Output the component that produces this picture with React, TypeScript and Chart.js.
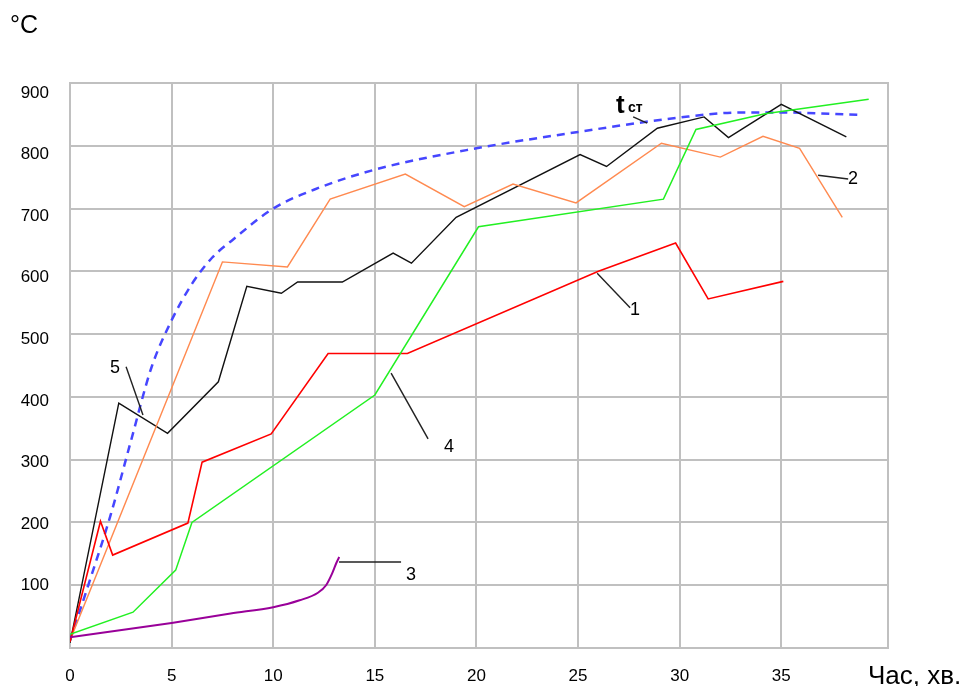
import React, { useEffect, useRef } from 'react';
import { Chart, registerables } from 'chart.js';

Chart.register(...registerables);

// ---- Data ----
const X_TICKS = [0, 5, 10, 15, 20, 25, 30, 35];
const Y_GRID = [0, 100, 200, 300, 400, 500, 600, 700, 800, 900];
const Y_LABELS = [100, 200, 300, 400, 500, 600, 700, 800, 900];

// Curve 1 (red)
const S1_X = [0, 1.5, 2.1, 5.8, 6.5, 9.9, 12.7, 16.6, 26.0, 29.8, 31.4, 35.1];
const S1_Y = [10, 202, 148, 199, 296, 341, 469, 469, 600, 645, 556, 584];

// Curve 2 (orange)
const S2_X = [0, 7.5, 10.7, 12.8, 16.5, 19.4, 21.8, 24.9, 29.1, 32.0, 34.1, 35.9, 38.0];
const S2_Y = [12, 615, 607, 715, 755, 703, 739, 709, 804, 782, 815, 796, 686];

// Curve 3 (purple)
const S3_X = [0, 5, 7.9, 10, 11.3, 12.2, 12.6, 12.9, 13.1, 13.25];
const S3_Y = [17, 40, 55, 65, 76, 88, 100, 119, 135, 145];

// Curve 4 (green)
const S4_X = [0, 3.1, 5.2, 6.0, 15.0, 20.1, 29.2, 30.8, 34.2, 39.3];
const S4_Y = [22, 57, 124, 200, 403, 671, 715, 826, 851, 874];

// Curve 5 (black)
const S5_X = [0, 2.4, 4.8, 7.3, 8.7, 10.4, 11.2, 13.4, 15.9, 16.8, 19.0, 25.1, 26.4, 28.9, 31.2, 32.4, 35.0, 38.2];
const S5_Y = [8, 390, 342, 424, 576, 565, 583, 583, 629, 613, 686, 786, 767, 828, 846, 813, 866, 814];

// t_ст (blue dashed)
const ST_X = [0, 1, 2, 3, 4, 5, 6, 7, 8, 10, 12, 15, 20, 25, 30, 33, 35, 39];
const ST_Y = [12, 110, 212, 330, 446, 522, 580, 622, 650, 700, 730, 762, 796, 822, 845, 853, 853, 849];

// Annotation labels and leader lines (data coordinates)
const LABEL_TEXTS = ['5', '4', '2', '1', '3'];
const LABEL_X = [2.21, 18.65, 38.53, 27.8, 16.78];
const LABEL_Y = [446, 320, 747, 538, 116];

const LEADER_X1 = [27.71, 2.76, 15.80, 36.81, 25.94, 13.24];
const LEADER_Y1 = [846, 448, 438, 753, 597, 137];
const LEADER_X2 = [28.40, 3.59, 17.62, 38.29, 27.56, 16.29];
const LEADER_Y2 = [836, 371, 333, 747, 542, 137];

const FONT = "'Liberation Sans', Arial, sans-serif";

const pts = (xs: number[], ys: number[]) => xs.map((x, i) => ({ x, y: ys[i] }));

const framePlugin = {
  id: 'frame',
  beforeDatasetsDraw(chart: any) {
    const { ctx, chartArea } = chart;
    ctx.save();
    ctx.strokeStyle = '#c0c0c0';
    ctx.lineWidth = 2;
    ctx.strokeRect(chartArea.left, chartArea.top, chartArea.right - chartArea.left, chartArea.bottom - chartArea.top);
    ctx.restore();
  },
};

const annotationPlugin = {
  id: 'annot',
  afterDatasetsDraw(chart: any) {
    const { ctx } = chart;
    const xs = chart.scales.x;
    const ys = chart.scales.y;
    ctx.save();
    // leader lines
    ctx.strokeStyle = '#222';
    ctx.lineWidth = 1.4;
    for (let i = 0; i < LEADER_X1.length; i++) {
      ctx.beginPath();
      ctx.moveTo(xs.getPixelForValue(LEADER_X1[i]), ys.getPixelForValue(LEADER_Y1[i]));
      ctx.lineTo(xs.getPixelForValue(LEADER_X2[i]), ys.getPixelForValue(LEADER_Y2[i]));
      ctx.stroke();
    }
    // number labels
    ctx.fillStyle = '#000';
    ctx.font = `18px ${FONT}`;
    ctx.textAlign = 'center';
    ctx.textBaseline = 'middle';
    for (let i = 0; i < LABEL_TEXTS.length; i++) {
      ctx.fillText(LABEL_TEXTS[i], xs.getPixelForValue(LABEL_X[i]), ys.getPixelForValue(LABEL_Y[i]));
    }
    // t_ст
    ctx.textAlign = 'left';
    ctx.textBaseline = 'alphabetic';
    ctx.font = `bold 26px ${FONT}`;
    ctx.fillText('t', xs.getPixelForValue(26.87), ys.getPixelForValue(852));
    ctx.font = `bold 14px ${FONT}`;
    ctx.fillText('ст', xs.getPixelForValue(27.46), ys.getPixelForValue(854));
    // axis titles
    ctx.font = `25px ${FONT}`;
    ctx.fillText('°C', 10, 33);
    ctx.font = `26px ${FONT}`;
    ctx.fillText('Час, хв.', 868, 684);
    ctx.restore();
  },
};

export default function App() {
  const ref = useRef<HTMLCanvasElement>(null);
  useEffect(() => {
    document.body.style.margin = '0';
    const canvas = ref.current!;
    const chart = new Chart(canvas, {
      type: 'line',
      data: {
        datasets: [
          { data: pts(S3_X, S3_Y), borderColor: '#990099', borderWidth: 2, cubicInterpolationMode: 'monotone', tension: 0.4 },
          { data: pts(S4_X, S4_Y), borderColor: '#22f022', borderWidth: 1.5 },
          { data: pts(S1_X, S1_Y), borderColor: '#ff0000', borderWidth: 1.6 },
          { data: pts(S2_X, S2_Y), borderColor: '#ff8a50', borderWidth: 1.4 },
          { data: pts(S5_X, S5_Y), borderColor: '#111111', borderWidth: 1.4 },
          { data: pts(ST_X, ST_Y), borderColor: '#4646ff', borderWidth: 2.5, borderDash: [8, 6], cubicInterpolationMode: 'monotone', tension: 0.4 },
        ] as any,
      },
      options: {
        animation: false,
        responsive: false,
        maintainAspectRatio: false,
        layout: { padding: { top: 83, right: 80, left: 0, bottom: 0 } },
        plugins: { legend: { display: false }, tooltip: { enabled: false } },
        elements: { point: { radius: 0 }, line: { fill: false } },
        scales: {
          x: {
            type: 'linear',
            min: 0,
            max: 40.25,
            afterBuildTicks: (s: any) => { s.ticks = X_TICKS.map((v) => ({ value: v })); },
            afterFit: (s: any) => { s.height = 38; },
            ticks: { font: { family: FONT, size: 17 }, color: '#000', padding: 18, maxRotation: 0, autoSkip: false },
            grid: { color: '#c0c0c0', lineWidth: 2, drawTicks: false },
            border: { display: false },
          },
          y: {
            type: 'linear',
            position: 'left',
            min: 0,
            max: 900,
            afterBuildTicks: (s: any) => { s.ticks = Y_GRID.map((v) => ({ value: v })); },
            afterFit: (s: any) => { s.width = 0; },
            ticks: { display: false },
            grid: { color: '#c0c0c0', lineWidth: 2, drawTicks: false },
            border: { display: false },
          },
          yl: {
            type: 'linear',
            position: 'left',
            min: -1.2,
            max: 916,
            afterBuildTicks: (s: any) => { s.ticks = Y_LABELS.map((v) => ({ value: v })); },
            afterFit: (s: any) => { s.width = 70; },
            ticks: { font: { family: FONT, size: 17 }, color: '#000', padding: 21, autoSkip: false },
            grid: { display: false, drawTicks: false },
            border: { display: false },
          },
        } as any,
      },
      plugins: [framePlugin, annotationPlugin],
    });
    return () => chart.destroy();
  }, []);
  return <canvas ref={ref} width={968} height={686} style={{ display: 'block' }} />;
}
